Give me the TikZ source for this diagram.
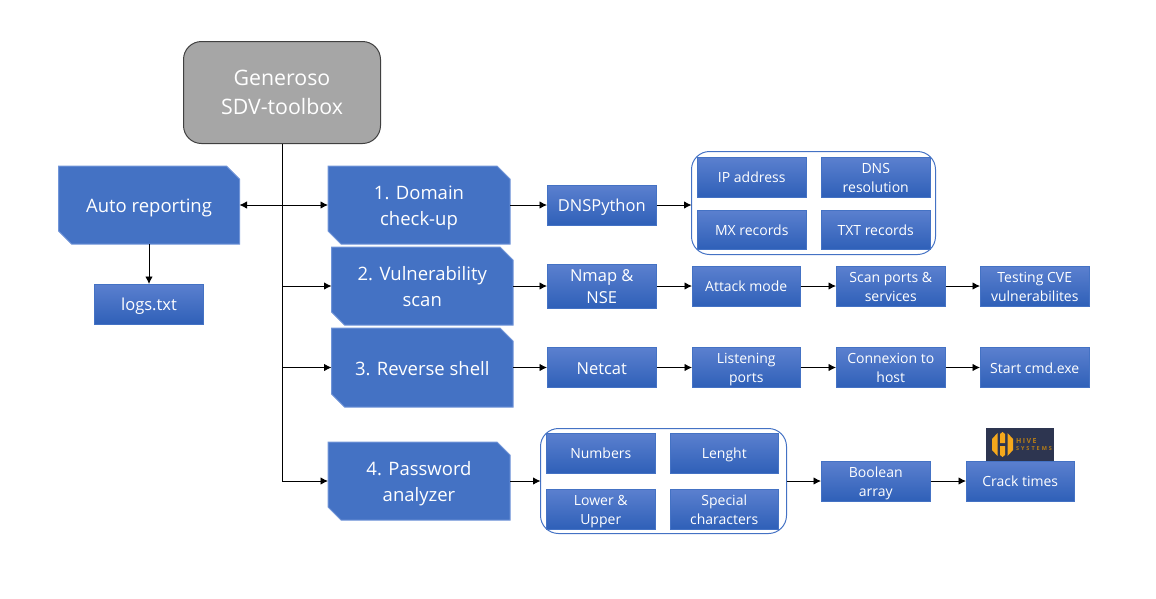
\documentclass[tikz,border=0pt]{standalone}
\usepackage{fontspec}
\setmainfont{Open Sans}
\usetikzlibrary{arrows.meta,calc}
\definecolor{bluemain}{HTML}{4472C4}
\definecolor{blueedge}{HTML}{7195D8}
\definecolor{bluetop}{HTML}{5B80CF}
\definecolor{bluebot}{HTML}{2F60B8}
\definecolor{boxedge}{HTML}{4472C4}
\definecolor{hivebg}{HTML}{2D3550}
\definecolor{hiveor}{HTML}{F5A81C}
\tikzset{
  conn/.style={line width=0.9pt,black},
  arr/.style={conn,-{Latex[length=7.5pt,width=7.5pt]}},
  dblarr/.style={conn,{Latex[length=7.5pt,width=7.5pt]}-{Latex[length=7.5pt,width=7.5pt]}},
  txt/.style={text=white,align=center,inner sep=0pt,outer sep=0pt},
  bluebox/.style={txt,draw=boxedge,line width=1pt,top color=bluetop,bottom color=bluebot,font=\fontsize{14}{19}\selectfont},
  bigbox/.style={bluebox,font=\fontsize{16.5}{22}\selectfont},
  snipshape/.style={fill=bluemain,draw=blueedge,line width=1pt},
  sniptext/.style={txt,font=\fontsize{18.5}{26}\selectfont},
  mainbox/.style={txt,fill=black!35,draw=black!75,line width=1pt,rounded corners=18pt,font=\fontsize{21.3}{29}\selectfont},
  groupbox/.style={draw=boxedge,line width=1pt,rounded corners=18pt,inner sep=0pt,outer sep=0pt},
  hivelogo/.style={fill=hivebg,inner sep=0pt,outer sep=0pt},
  hivetxt/.style={text=hiveor!75!black,inner sep=0pt,outer sep=0pt,anchor=west}
}
\newcommand{\st}{\rule[-.2\baselineskip]{0pt}{\baselineskip}}
% absolute-corner node: style, name, x0, y0, x1, y1, text
\newcommand{\cornernode}[7]{%
  \pgfmathsetmacro{\wdA}{#5-#3}\pgfmathsetmacro{\htA}{#6-#4}%
  \node[#1,minimum width=\wdA pt,minimum height=\htA pt] (#2) at ({(#3+#5)/2},{(#4+#6)/2}) {#7};}
\newcommand{\snipnode}[6]{%
  \draw[snipshape] (#2,#3) -- ({#4-13},#3) -- (#4,{#3+13}) -- (#4,#5) -- ({#2+13},#5) -- (#2,{#5-13}) -- cycle;
  \cornernode{sniptext}{#1}{#2}{#3}{#4}{#5}{#6}}
\begin{document}
\begin{tikzpicture}[x=1pt,y=-1pt]
\useasboundingbox (0,0) rectangle (1156,598);

\cornernode{mainbox}{sdv}{183.5}{41.5}{380.5}{143.5}{Generoso\\SDV-toolbox}
\snipnode{auto}{58.5}{166}{239.5}{244}{\st Auto reporting}
\snipnode{domain}{328}{166}{510}{244}{\st 1. Domain\\\st check-up}
\snipnode{vuln}{331.5}{247}{513}{325}{\st 2. Vulnerability\\\st scan}
\snipnode{rev}{331.5}{328}{513}{407}{\st 3. Reverse  shell}
\snipnode{pass}{328}{442}{510}{520}{\st 4. Password\\\st analyzer}

\cornernode{bigbox}{logs}{94.5}{284}{203.5}{324}{\st logs.txt}

% Row 1
\cornernode{bigbox}{dnspy}{547}{185}{656.5}{225}{\st DNSPython}
\cornernode{groupbox}{groupa}{691.5}{151.5}{935.5}{254.5}{}
\cornernode{bluebox}{ip}{697}{157}{806.5}{197}{\st IP address}
\cornernode{bluebox}{dnsres}{821}{157}{930.5}{197}{\st DNS\\\st resolution}
\cornernode{bluebox}{mx}{697}{210}{806.5}{249}{\st MX records}
\cornernode{bluebox}{txtrec}{821}{210}{930.5}{249}{\st TXT records}

% Row 2
\cornernode{bigbox}{nmap}{547}{266}{656.5}{306}{\st Nmap \&\\\st NSE}
\cornernode{bluebox}{attack}{692}{266}{800.5}{306}{\st Attack mode}
\cornernode{bluebox}{scan}{836}{266}{945.5}{306}{\st Scan ports \&\\\st services}
\cornernode{bluebox}{cve}{980}{266}{1089.5}{306}{\st Testing CVE\\\st vulnerabilites}

% Row 3
\cornernode{bigbox}{netcat}{547}{347.5}{656.5}{387.5}{\st Netcat}
\cornernode{bluebox}{listen}{692}{347.5}{800.5}{387.5}{\st Listening\\\st ports}
\cornernode{bluebox}{host}{836}{347.5}{945.5}{387.5}{\st Connexion to\\\st host}
\cornernode{bluebox}{cmd}{980}{347.5}{1089.5}{387.5}{\st Start cmd.exe}

% Row 4
\cornernode{groupbox}{groupb}{540.5}{428.5}{786.5}{533.5}{}
\cornernode{bluebox}{numbers}{546}{433}{655.5}{473}{\st Numbers}
\cornernode{bluebox}{lenght}{670}{433}{778.5}{473}{\st Lenght}
\cornernode{bluebox}{lower}{546}{489}{655.5}{529}{\st Lower \&\\\st Upper}
\cornernode{bluebox}{special}{670}{489}{778.5}{529}{\st Special\\\st characters}
\cornernode{bluebox}{bool}{821}{461}{930.5}{501}{\st Boolean\\\st array}
\cornernode{bluebox}{crack}{966}{461}{1074.5}{501}{\st Crack times}

% Hive Systems logo
\cornernode{hivelogo}{hive}{986}{428}{1054}{461}{}
\fill[hiveor] (992,444.5) -- (992,439) -- (997.5,433) -- (997.5,456) -- (992,450) -- cycle;
\fill[hiveor] (1000,434) -- (1002.5,432) -- (1005,434) -- (1005,443) -- (1000,443) -- cycle;
\fill[hiveor] (1000,446) -- (1005,446) -- (1005,455) -- (1002.5,457) -- (1000,455) -- cycle;
\fill[hiveor] (1007.5,433) -- (1013,439) -- (1013,450) -- (1007.5,456) -- cycle;
\node[hivetxt,font=\fontsize{7}{8}\selectfont\bfseries] (hivea) at (1016,440.5) {H\kern1.5pt I\kern1.5pt V\kern1.5pt E};
\node[hivetxt,font=\fontsize{5.5}{6}\selectfont\bfseries] (hiveb) at (1016,449) {S\kern2pt Y\kern2pt S\kern2pt T\kern2pt E\kern2pt M\kern2pt S};

% Connectors
\coordinate (trunkend) at (sdv.south |- pass.west);
\draw[conn] (sdv.south) -- (trunkend);
\draw[dblarr] (auto.east) -- (domain.west);
\draw[arr] (sdv.south |- vuln.west) -- (vuln.west);
\draw[arr] (sdv.south |- rev.west) -- (rev.west);
\draw[arr] (trunkend) -- (pass.west);
\draw[arr] (auto.south) -- (logs.north);

\draw[arr] (domain.east) -- (dnspy.west);
\draw[arr] (dnspy.east) -- (dnspy.east -| groupa.west);
\draw[arr] (vuln.east) -- (nmap.west);
\draw[arr] (nmap.east) -- (attack.west);
\draw[arr] (attack.east) -- (scan.west);
\draw[arr] (scan.east) -- (cve.west);
\draw[arr] (rev.east) -- (netcat.west);
\draw[arr] (netcat.east) -- (listen.west);
\draw[arr] (listen.east) -- (host.west);
\draw[arr] (host.east) -- (cmd.west);
\draw[arr] (pass.east) -- (groupb.west);
\draw[arr] (groupb.east) -- (bool.west);
\draw[arr] (bool.east) -- (crack.west);
\end{tikzpicture}
\end{document}
